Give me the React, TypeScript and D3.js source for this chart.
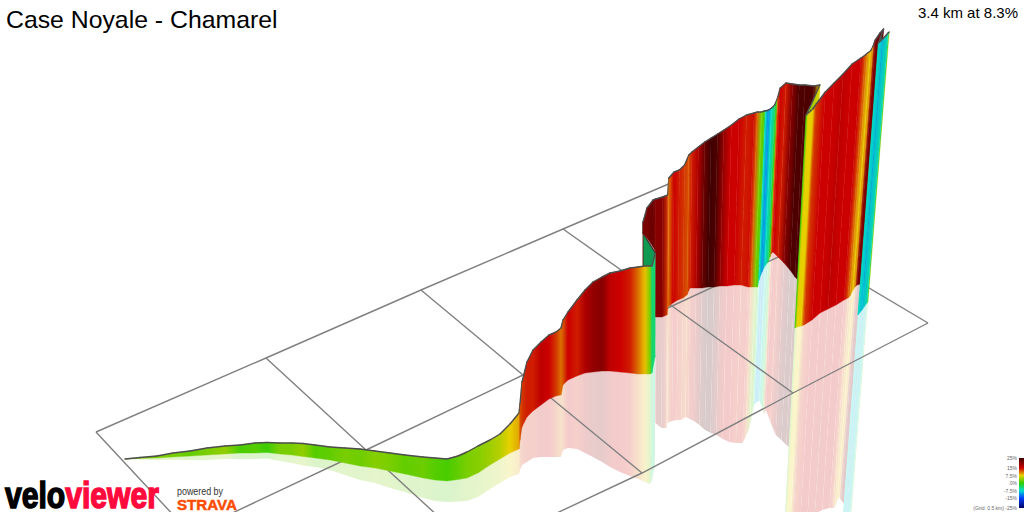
import React from "react";
import * as d3 from "d3";

// route samples: ground track, wall top, reflection depth, grade %
const routeX = [
  125, 140, 157, 173, 190, 207, 225, 240, 255, 267, 280, 292, 303, 315, 330, 345, 360, 375, 390, 405, 423, 435, 447, 458,
  467, 478, 490, 500, 510, 519, 520, 522, 527, 533, 541, 549, 556, 561, 563, 568, 577, 585, 593, 602, 610, 620, 630, 638,
  645, 650, 652, 655,
  643, 643, 647, 653, 655.5, 655.5, 662, 667, 668, 673, 678, 683, 687, 690, 696, 702, 708, 714, 720, 727, 734, 741, 748, 751,
  755, 757.5, 759, 762, 765, 768, 770, 771, 773, 778, 784, 790, 795, 803, 808, 803,
  795, 797, 801, 804, 812, 820, 828, 836, 844, 848, 850, 853, 855, 857, 861, 864, 858, 862, 867, 868,
];
const footY = [
  459, 458.5, 458, 457, 456, 455, 454, 453, 453, 452.5, 454, 455, 456.5, 458, 460, 463, 466, 468, 471, 474, 478, 480, 481, 479.5,
  478, 473, 465, 459, 453, 449, 440, 427, 417, 411, 405, 399, 396, 395, 385, 380, 376, 373, 372, 371, 371, 372, 373, 374,
  374, 374, 373, 357,
  300, 233, 238, 247, 252, 317, 317, 315, 307, 303, 300, 298, 295, 288, 288, 288, 287, 287, 286, 286, 285, 285, 287, 287,
  287, 287, 280, 272, 266, 262, 257, 254, 252, 257, 263, 270, 277, 285, 292, 285,
  328, 327, 326, 325, 320, 313, 309, 305, 300, 298, 296, 290, 287, 285, 284, 283, 315, 310, 303, 302,
];
const topY = [
  459, 457.5, 456, 453, 451, 448, 446, 445, 443, 442.5, 443, 443, 443.5, 445, 447, 448, 449, 451, 453, 455, 457, 458, 459, 456,
  452, 446, 440, 434, 424, 413, 404, 382, 362, 350, 342, 335, 332, 328, 320, 312, 300, 290, 282, 277, 273, 271, 268, 267,
  266, 266, 266, 253,
  233, 222, 208, 200, 199, 199, 197, 195, 178, 172, 170, 165, 155, 152, 147, 142, 138, 134, 130, 125, 119, 115, 113, 112,
  112, 111, 111, 110, 108, 105, 100, 97, 88, 83, 84, 85, 85, 86, 85, 100,
  115, 113, 109, 104, 92, 83, 74, 64, 58, 55, 53, 51, 47, 40, 33, 29, 43, 39, 33, 32,
];
const mirrorDepth = [
  0, 1, 2, 3, 4, 5, 5, 6, 6, 6, 7, 8, 9, 9, 10, 12, 14, 15, 17, 18, 20, 21, 21, 22,
  23, 24, 24, 24, 24, 25, 30, 38, 45, 47, 52, 58, 61, 62, 65, 68, 73, 80, 85, 91, 96, 100, 103, 105,
  108, 110, 108, 108,
  0, 0, 0, 0, 0, 106, 111, 113, 116, 118, 120, 122, 122, 130, 133, 137, 143, 146, 149, 153, 157, 158, 156, 150,
  140, 125, 125, 130, 135, 145, 155, 160, 158, 165, 172, 170, 168, 165, 160, 160,
  205, 205, 205, 205, 205, 205, 205, 205, 208, 210, 211, 210, 210, 215, 220, 225, 225, 225, 225, 225,
];
const grade = [
  2, 3, 3, 3, 2, 3, 4, 1, 1.5, 0.5, 3, 3, 4, 1.5, 2, 3, 2.5, 3.5, 3, 2, 2.5, 1.5, 1, 2,
  3, 3.5, 4.5, 5.5, 7.5, 9, 12, 13, 14, 14, 16, 15, 13, 11, 12, 15, 14, 17, 19, 20, 16, 15, 14, 11,
  8, 3, -4, -4,
  -4, 21, 21, 22, 20, 20, 20, 13, 11, 15, 14, 13, 12, 14, 17, 22, 25, 24, 19, 15, 15, 14, 14.5, 11.5,
  3, 1, -7, -11, -7, -4, 1, 12, 15, 14, 20, 24, 24, 24, 7, 5,
  1, 7.5, 7.5, 13, 15, 15, 16, 15, 15, 12, 10, 8, 10, 20, 22, 22, -7, -9, -6, 3,
];
// first sample of the part of the route that lies behind the opening climb
const secondLegStart = 51;

const gradeStops = [-25, -15, -7.5, 0, 7.5, 15, 25];
const gradeColors = ["#000060", "#0040ff", "#00dcd0", "#30cc00", "#e8d000", "#cc0000", "#400000"];
const legendTicks = [25, 15, 7.5, 0, -7.5, -15, -25];

// grid nodes, 0.5 km apart
const gridFar: [number, number][] = [[96, 432], [266, 358], [421, 290], [563, 229], [692, 174]];
const gridMid: [number, number][] = [[190, 533], [366, 450], [523, 375], [672, 306], [800, 247]];
const gridNear: [number, number][] = [[290, 638], [476, 551], [642, 473], [793, 393], [928, 323]];

const x = d3.scaleIdentity();
const y = d3.scaleIdentity();
const color = d3.scaleLinear<string>().domain(gradeStops).range(gradeColors).interpolate(d3.interpolateRgb);
const legendY = d3.scaleLinear().domain([25, -25]).range([458, 508]);
const gridLine = d3.line();

// verticals lean outwards away from the middle of the view
const lean = (gx: number) => Math.max(0, gx - 650) * 0.00036;

const topPt = (i: number): [number, number] => [
  x(routeX[i] + lean(routeX[i]) * (footY[i] - topY[i])),
  y(topY[i]),
];
const footPt = (i: number): [number, number] => [x(routeX[i]), y(footY[i])];
const mirrorPt = (i: number): [number, number] => [
  x(routeX[i] - lean(routeX[i]) * mirrorDepth[i]),
  y(footY[i] + mirrorDepth[i]),
];

const quad = (a: [number, number], b: [number, number], c: [number, number], d: [number, number]) =>
  gridLine([a, b, c, d]) + "Z";

// blend runs across the strip, so its bands stay parallel to the leaning verticals
const blendEnds = (i: number) => {
  const [ax, ay] = footPt(i);
  const [bx, by] = footPt(i + 1);
  const l = lean((ax + bx) / 2);
  const t = ((bx - ax) + (by - ay) * l) / (1 + l * l);
  return { x1: ax, y1: ay, x2: ax + t, y2: ay + t * l };
};

export default function App() {
  const n = routeX.length;
  const strips = d3.range(n - 1);
  // painter's order: the later legs sit behind the opening climb
  const order = [...d3.range(secondLegStart, n - 1), ...d3.range(0, secondLegStart)];

  return (
    <svg
      width={1024}
      height={512}
      style={{ position: "absolute", left: 0, top: 0, background: "#fff" }}
      fontFamily="'Liberation Sans', Arial, sans-serif"
    >
      <defs>
        <linearGradient id="gradeBar" x1="0" y1="0" x2="0" y2="1">
          {legendTicks.map((t) => (
            <stop key={t} offset={(legendY(t) - 458) / 50} stopColor={color(t)} />
          ))}
        </linearGradient>
        {strips.map((i) => (
          <linearGradient key={i} id={`strip${i}`} gradientUnits="userSpaceOnUse" {...blendEnds(i)}>
            <stop offset={0} stopColor={color(grade[i])} />
            <stop offset={1} stopColor={color(grade[i + 1])} />
          </linearGradient>
        ))}
      </defs>

      {/* reflection under the ground */}
      <g opacity={0.2}>
        {order.map((i) => (
          <path
            key={i}
            d={quad(footPt(i), footPt(i + 1), mirrorPt(i + 1), mirrorPt(i))}
            fill={`url(#strip${i})`}
          />
        ))}
      </g>

      {/* grid */}
      <g fill="none" stroke="#808080" strokeWidth={1.4}>
        <path d={gridLine(gridFar)!} />
        <path d={gridLine(gridMid)!} />
        <path d={gridLine(gridNear)!} />
        {gridFar.map((p, i) => (
          <path key={i} d={gridLine([p, gridMid[i], gridNear[i]])!} />
        ))}
      </g>

      {/* wall; the strip turning back at the hairpin is seen in shade */}
      {order.map((i) => (
        <g key={i} style={i === secondLegStart ? { filter: "brightness(0.72)" } : undefined}>
          <path
            d={quad(topPt(i), topPt(i + 1), footPt(i + 1), footPt(i))}
            fill={`url(#strip${i})`}
            stroke={`url(#strip${i})`}
            strokeWidth={0.4}
          />
          <path d={gridLine([topPt(i), topPt(i + 1)])!} fill="none" stroke="#4d4d4d" strokeWidth={1.4} strokeLinecap="round" />
        </g>
      ))}

      {/* title */}
      <text x={6} y={28} fontSize={24.8} fill="#000">Case Noyale - Chamarel</text>
      <text x={1018} y={18} fontSize={15} textAnchor="end" fill="#000">3.4 km at 8.3%</text>

      {/* grade legend */}
      <rect x={1019} y={458} width={5} height={50} fill="url(#gradeBar)" />
      <g fontSize={5} fill="#666" textAnchor="end">
        {legendTicks.map((t) => (
          <text key={t} x={1017} y={legendY(t) + 2}>
            {t === -25 ? "(Grid: 0.5 km) " : ""}{t}%
          </text>
        ))}
      </g>

      {/* logos */}
      <text x={5} y={508} fontSize={36} fontWeight={700} strokeWidth={1.5} textLength={154} lengthAdjust="spacingAndGlyphs">
        <tspan fill="#000" stroke="#000">velo</tspan>
        <tspan fill="#ff0a3c" stroke="#ff0a3c">viewer</tspan>
      </text>
      <text x={177} y={495} fontSize={10} fill="#333" textLength={46} lengthAdjust="spacingAndGlyphs">powered by</text>
      <text x={177} y={510} fontSize={15.5} fontWeight={700} fill="#fc4c02" stroke="#fc4c02" strokeWidth={0.5} textLength={60} lengthAdjust="spacingAndGlyphs">STRAVA</text>
    </svg>
  );
}
